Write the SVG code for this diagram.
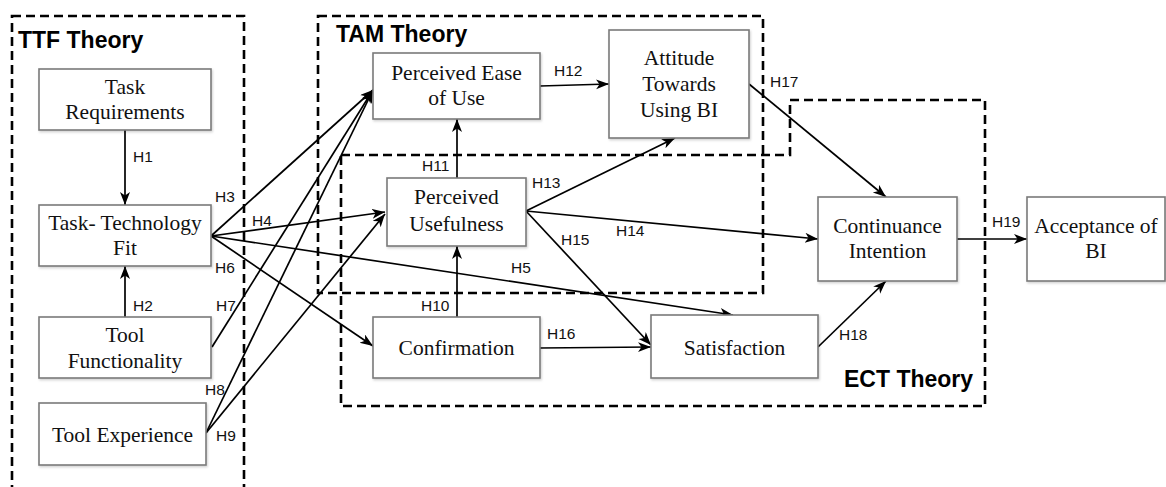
<svg xmlns="http://www.w3.org/2000/svg" width="1166" height="487" viewBox="0 0 1166 487">
<style>
.frame{fill:none;stroke:#000;stroke-width:2.6;stroke-dasharray:9 5}
.title{font-family:"Liberation Sans",Arial,sans-serif;font-weight:bold;font-size:23px;fill:#000}
.box{fill:#fff;stroke:#7a7a7a;stroke-width:1.6;filter:url(#sh)}
.nt{font-family:"Liberation Serif","Times New Roman",serif;font-size:21.5px;fill:#111;text-anchor:middle}
.lbl{font-family:"Liberation Sans",Arial,sans-serif;font-size:15.5px;fill:#111}
.c{fill:none;stroke:#000;stroke-width:1.7;marker-end:url(#ah)}
</style>
<defs>
<marker id="ah" markerUnits="userSpaceOnUse" markerWidth="14" markerHeight="12" refX="13" refY="5" orient="auto">
<path d="M0,0 L13,5 L0,10 L3.5,5 Z" fill="#000"/>
</marker>
<filter id="sh" x="-5%" y="-5%" width="115%" height="120%">
<feDropShadow dx="1" dy="1.5" stdDeviation="1" flood-color="#000" flood-opacity="0.18"/>
</filter>
</defs>
<rect width="1166" height="487" fill="#fff"/>

<g id="frames">
<rect class="frame" x="12" y="16" width="232" height="490"/>
<rect class="frame" x="318" y="16" width="445" height="277"/>
<path class="frame" d="M341,155 L790,155 L790,100 L985,100 L985,406 L341,406 Z"/>
<text class="title" x="18" y="48">TTF Theory</text>
<text class="title" x="336" y="42">TAM Theory</text>
<text class="title" x="844" y="387">ECT Theory</text>
</g>

<g id="connectors">
<line class="c" x1="125" y1="130" x2="125" y2="205"/>
<line class="c" x1="125" y1="317" x2="125" y2="266"/>
<line class="c" x1="211" y1="236" x2="373" y2="90"/>
<line class="c" x1="211" y1="236" x2="385" y2="212"/>
<line class="c" x1="211" y1="236" x2="733" y2="315"/>
<line class="c" x1="211" y1="236" x2="373" y2="346"/>
<line class="c" x1="212" y1="347" x2="373" y2="90"/>
<line class="c" x1="206" y1="433" x2="373" y2="90"/>
<line class="c" x1="206" y1="433" x2="385" y2="214"/>
<line class="c" x1="457" y1="317" x2="457" y2="246"/>
<line class="c" x1="457" y1="178" x2="457" y2="119"/>
<line class="c" x1="540" y1="86" x2="609" y2="84"/>
<line class="c" x1="526" y1="211" x2="675" y2="138"/>
<line class="c" x1="526" y1="211" x2="818" y2="239"/>
<line class="c" x1="526" y1="211" x2="651" y2="345"/>
<line class="c" x1="540" y1="348" x2="651" y2="347"/>
<line class="c" x1="749" y1="84" x2="886" y2="197"/>
<line class="c" x1="818" y1="347" x2="886" y2="281"/>
<line class="c" x1="957" y1="239" x2="1027" y2="239"/>
<text class="lbl" x="133" y="162">H1</text>
<text class="lbl" x="133" y="311">H2</text>
<text class="lbl" x="215" y="202">H3</text>
<text class="lbl" x="252" y="226">H4</text>
<text class="lbl" x="511" y="273">H5</text>
<text class="lbl" x="215" y="273">H6</text>
<text class="lbl" x="216" y="311">H7</text>
<text class="lbl" x="205" y="395">H8</text>
<text class="lbl" x="216" y="441">H9</text>
<text class="lbl" x="421" y="311">H10</text>
<text class="lbl" x="422" y="171">H11</text>
<text class="lbl" x="554" y="76">H12</text>
<text class="lbl" x="532" y="188">H13</text>
<text class="lbl" x="616" y="236">H14</text>
<text class="lbl" x="561" y="245">H15</text>
<text class="lbl" x="547" y="339">H16</text>
<text class="lbl" x="770" y="87">H17</text>
<text class="lbl" x="839" y="340">H18</text>
<text class="lbl" x="992" y="227">H19</text>
</g>

<g id="task-requirements">
<rect class="box" x="39" y="69" width="172" height="61"/>
<text class="nt" x="125" y="94">Task</text>
<text class="nt" x="125" y="119">Requirements</text>
</g>
<g id="task-technology-fit">
<rect class="box" x="39" y="205" width="172" height="61"/>
<text class="nt" x="125" y="230">Task- Technology</text>
<text class="nt" x="125" y="255">Fit</text>
</g>
<g id="tool-functionality">
<rect class="box" x="39" y="317" width="172" height="61"/>
<text class="nt" x="125" y="342">Tool</text>
<text class="nt" x="125" y="368">Functionality</text>
</g>
<g id="tool-experience">
<rect class="box" x="39" y="403" width="167" height="62"/>
<text class="nt" x="122.5" y="442">Tool Experience</text>
</g>
<g id="perceived-ease-of-use">
<rect class="box" x="373" y="53" width="167" height="66"/>
<text class="nt" x="456.5" y="80">Perceived Ease</text>
<text class="nt" x="456.5" y="105">of Use</text>
</g>
<g id="attitude">
<rect class="box" x="609" y="30" width="140" height="108"/>
<text class="nt" x="679" y="65">Attitude</text>
<text class="nt" x="679" y="91">Towards</text>
<text class="nt" x="679" y="117">Using BI</text>
</g>
<g id="perceived-usefulness">
<rect class="box" x="387" y="178" width="139" height="68"/>
<text class="nt" x="456.5" y="204">Perceived</text>
<text class="nt" x="456.5" y="231">Usefulness</text>
</g>
<g id="confirmation">
<rect class="box" x="373" y="317" width="167" height="61"/>
<text class="nt" x="456.5" y="355">Confirmation</text>
</g>
<g id="satisfaction">
<rect class="box" x="651" y="315" width="167" height="63"/>
<text class="nt" x="734.5" y="355">Satisfaction</text>
</g>
<g id="continuance-intention">
<rect class="box" x="818" y="197" width="139" height="84"/>
<text class="nt" x="887.5" y="233">Continuance</text>
<text class="nt" x="887.5" y="258">Intention</text>
</g>
<g id="acceptance-of-bi">
<rect class="box" x="1027" y="197" width="138" height="84"/>
<text class="nt" x="1096" y="233">Acceptance of</text>
<text class="nt" x="1096" y="258">BI</text>
</g>
</svg>
